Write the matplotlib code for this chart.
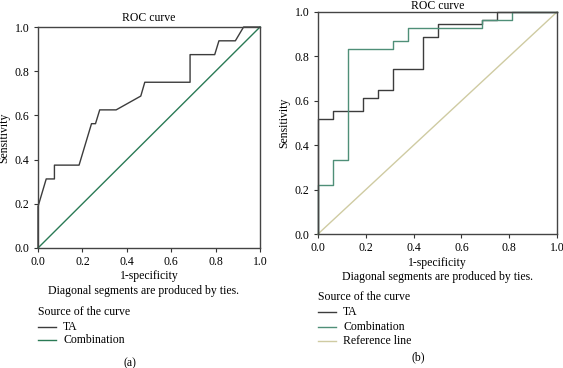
import numpy as np
import matplotlib.pyplot as plt

plt.rcParams["font.family"] = ["Liberation Serif", "DejaVu Serif"]

# panel (a)
a_ta_x = [0, 0, 0.037, 0.074, 0.074, 0.185, 0.241, 0.259, 0.278, 0.352, 0.463, 0.481, 0.685, 0.685, 0.796, 0.815, 0.889, 0.926, 1.0]
a_ta_y = [0, 0.1875, 0.3125, 0.3125, 0.375, 0.375, 0.5625, 0.5625, 0.625, 0.625, 0.6875, 0.75, 0.75, 0.875, 0.875, 0.9375, 0.9375, 1.0, 1.0]
a_comb_x = [0, 1]
a_comb_y = [0, 1]

# panel (b)
b_ta_x = [0, 0, 0.0625, 0.0625, 0.1875, 0.1875, 0.25, 0.25, 0.3125, 0.3125, 0.4375, 0.4375, 0.5, 0.5, 0.6875, 0.6875, 0.75, 0.75, 1.0]
b_ta_y = [0, 0.519, 0.519, 0.556, 0.556, 0.611, 0.611, 0.648, 0.648, 0.741, 0.741, 0.889, 0.889, 0.944, 0.944, 0.963, 0.963, 1.0, 1.0]
b_comb_x = [0, 0, 0.0625, 0.0625, 0.125, 0.125, 0.3125, 0.3125, 0.375, 0.375, 0.6875, 0.6875, 0.8125, 0.8125, 1.0]
b_comb_y = [0, 0.222, 0.222, 0.333, 0.333, 0.833, 0.833, 0.870, 0.870, 0.926, 0.926, 0.963, 0.963, 1.0, 1.0]
b_ref_x = [0, 1]
b_ref_y = [0, 1]

ticks = [0.0, 0.2, 0.4, 0.6, 0.8, 1.0]

C_TA = "#3c3c3c"
C_COMB_A = "#2a7a55"
C_COMB_B = "#4f8f78"
C_REF = "#cfcba2"
FS = 8.5

W, H = 563, 368
fig = plt.figure(figsize=(W / 100, H / 100), dpi=100)


def px(x, y):
    return x / W, 1 - y / H


def setup(ax):
    ax.set_xlim(0, 1)
    ax.set_ylim(0, 1)
    ax.set_xticks(ticks)
    ax.set_yticks(ticks)
    ax.set_xticklabels([f"{t:.1f}" for t in ticks])
    ax.set_yticklabels([f"{t:.1f}" for t in ticks])
    ax.tick_params(labelsize=FS, length=3, width=0.8, color="#333333", pad=3)
    for s in ax.spines.values():
        s.set_linewidth(1.0)
        s.set_color("#444444")
    ax.set_ylabel("Sensitivity", fontsize=FS, labelpad=3)


ax1 = fig.add_axes([38 / W, 1 - 248 / H, 222 / W, 221 / H])
setup(ax1)
ax1.plot(a_ta_x, a_ta_y, color=C_TA, lw=1.0, clip_on=False)
ax1.plot(a_comb_x, a_comb_y, color=C_COMB_A, lw=1.0, clip_on=False)
ax1.set_title("ROC curve", fontsize=FS, pad=4)

ax2 = fig.add_axes([318 / W, 1 - 234 / H, 239 / W, 222 / H])
setup(ax2)
ax2.plot(b_ref_x, b_ref_y, color=C_REF, lw=1.0, clip_on=False)
ax2.plot(b_ta_x, b_ta_y, color=C_TA, lw=1.0, clip_on=False)
ax2.plot(b_comb_x, b_comb_y, color=C_COMB_B, lw=1.0, clip_on=False)
ax2.set_title("ROC curve", fontsize=FS, pad=1)

# text below the axes
for cx, y_lab, y_diag, y_src, x_leg, y_items, names, colors, tag, y_tag, x_tag in [
    (149, 276, 291, 312, 38, [327, 340], ["TA", "Combination"], [C_TA, C_COMB_A], "(a)", 363, 130),
    (437, 263, 277, 297, 318, [312, 327, 341], ["TA", "Combination", "Reference line"],
     [C_TA, C_COMB_B, C_REF], "(b)", 357, 418),
]:
    fig.text(*px(cx, y_lab), "1-specificity", fontsize=FS, ha="center", va="center")
    fig.text(*px(cx - 5 if tag == "(a)" else cx, y_diag), "Diagonal segments are produced by ties.",
             fontsize=FS, ha="center", va="center")
    fig.text(*px(x_leg, y_src), "Source of the curve", fontsize=FS, ha="left", va="center")
    for yy, name, col in zip(y_items, names, colors):
        x0, y0 = px(x_leg, yy)
        x1, _ = px(x_leg + 18, yy)
        fig.add_artist(plt.Line2D([x0, x1], [y0, y0], color=col, lw=1.0))
        fig.text(*px(x_leg + 25, yy), name, fontsize=FS, ha="left", va="center")
    fig.text(*px(x_tag, y_tag), tag, fontsize=FS, ha="center", va="center")

fig.savefig("out.png", dpi=100)
